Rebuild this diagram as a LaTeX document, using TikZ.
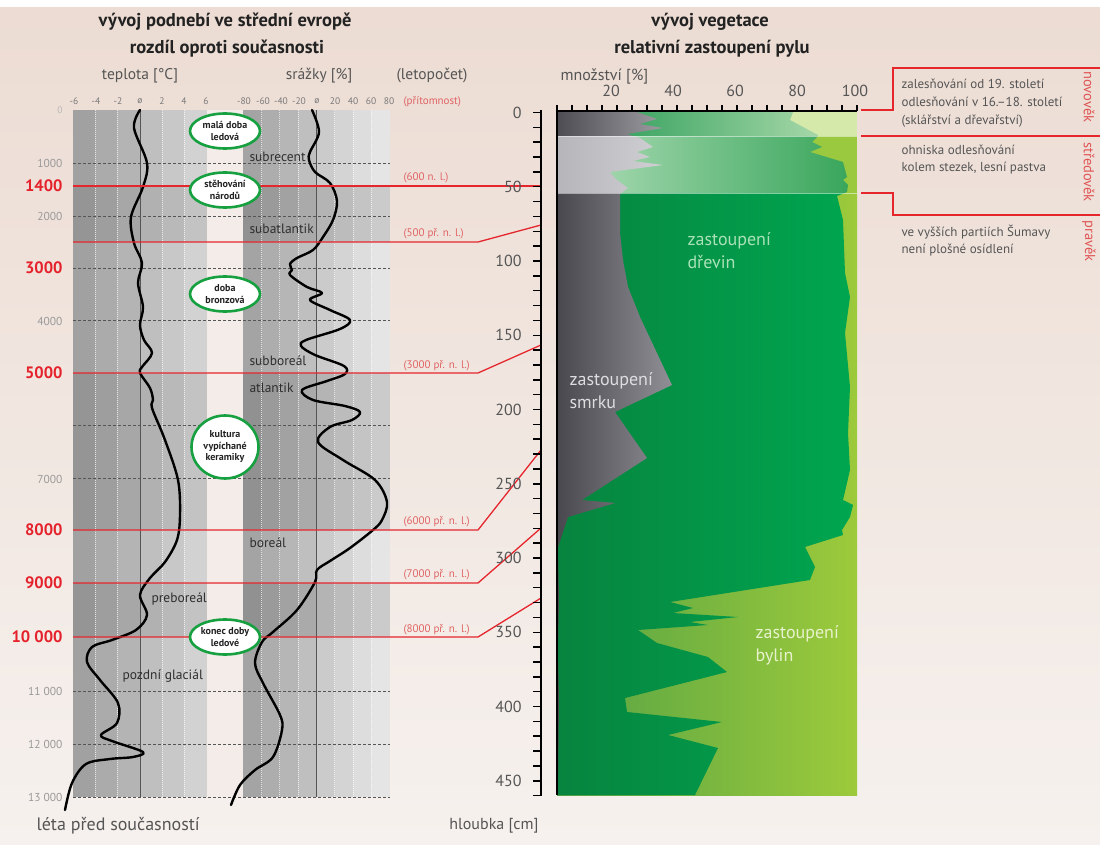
\documentclass[tikz,border=0pt]{standalone}
\usepackage{fontspec}
\setmainfont{PT Sans}
\usetikzlibrary{shapes.geometric}
\definecolor{bgtop}{HTML}{ECDCD3}
\definecolor{bgbot}{HTML}{F6F1EE}
\definecolor{tdark}{HTML}{222222}
\definecolor{tgray}{HTML}{555555}
\definecolor{axgray}{HTML}{7A7A7A}
\definecolor{yrgray}{HTML}{9A9A9A}
\definecolor{yrred}{HTML}{E5222B}
\definecolor{epgray}{HTML}{2E2E2E}
\definecolor{rlabc}{HTML}{E06464}
\definecolor{erared}{HTML}{E05555}
\definecolor{redline}{HTML}{E5262D}
\definecolor{bubgreen}{HTML}{16A040}
\definecolor{hgray}{HTML}{555555}
\definecolor{zgray}{HTML}{555555}
\definecolor{gapc}{HTML}{F3ECE8}
% vegetation colours
\definecolor{hbA}{RGB}{85,163,69}
\definecolor{hbB}{RGB}{157,202,59}
\definecolor{trA}{RGB}{7,132,63}
\definecolor{trB}{RGB}{0,166,80}
\definecolor{spA}{RGB}{72,72,78}
\definecolor{spB}{RGB}{143,143,149}
\definecolor{hb2}{RGB}{154,201,64}
\definecolor{tr2A}{RGB}{180,223,187}
\definecolor{tr2B}{RGB}{55,165,90}
\definecolor{sp2A}{RGB}{181,181,186}
\definecolor{sp2B}{RGB}{210,210,214}
\definecolor{hb1}{RGB}{213,233,170}
\definecolor{tr1A}{RGB}{23,147,74}
\definecolor{tr1B}{RGB}{184,224,180}
\definecolor{sp1A}{RGB}{77,77,83}
\definecolor{sp1B}{RGB}{163,163,168}
\definecolor{vlc1}{RGB}{170,226,184}
\definecolor{vlc2}{RGB}{222,222,224}
\definecolor{vlc3}{RGB}{232,242,204}
\begin{document}
\begin{tikzpicture}[x=1pt,y=-1pt,
  ttl/.style={font=\bfseries\fontsize{18.5}{22}\selectfont, text=tdark},
  subt/.style={font=\fontsize{15.5}{18}\selectfont, text=tgray},
  axl/.style={font=\fontsize{9.5}{10}\selectfont, text=axgray},
  yrg/.style={font=\fontsize{11.5}{12}\selectfont, text=yrgray, anchor=east},
  yrr/.style={font=\bfseries\fontsize{16.5}{18}\selectfont, text=yrred, anchor=east},
  epo/.style={font=\fontsize{13.5}{15}\selectfont, text=epgray, anchor=west},
  rlab/.style={font=\fontsize{11}{12}\selectfont, text=rlabc, anchor=west},
  bub/.style={ellipse, draw=bubgreen, line width=2.6pt, fill=white, inner xsep=-5pt, inner ysep=-3pt, align=center,
    font=\bfseries\fontsize{10}{11.5}\selectfont, text=tdark, minimum width=70pt, minimum height=35pt},
  dep/.style={font=\fontsize{16}{18}\selectfont, text=tgray, anchor=east},
  ann/.style={font=\fontsize{13}{15}\selectfont, text=tgray, anchor=west},
  era/.style={font=\fontsize{14.5}{16}\selectfont, text=erared, rotate=-90},
  vlab/.style={font=\fontsize{18}{23}\selectfont, anchor=west, align=left},
  redln/.style={draw=redline, line width=1.3pt},
  curve/.style={line width=2.4pt, black, line cap=round, line join=round},
  gridh/.style={draw=hgray, dash pattern=on 3pt off 2pt, line width=0.8pt},
  gridv/.style={draw=white, opacity=0.7, dash pattern=on 1pt off 1pt, line width=0.6pt},
  zero/.style={draw=zgray, line width=1pt},
  axisk/.style={draw=black, line width=1.5pt}
]
\useasboundingbox (0,0) rectangle (1100,845);
\fill[white] (0,0) rectangle (1100,845);
\shade[top color=bgtop,bottom color=bgbot] (0,8) rectangle (1100,845);

% ---------- left panels ----------
\foreach \a/\b/\c in {73/95/A1A1A1,95/117/ABABAB,117/140/B4B4B4,140/162/BFBFBF,162/184/C8C8C8,184/207/D2D2D2,
  243/261.5/A4A4A4,261.5/279.5/ADADAD,279.5/298/B6B6B6,298/316/BFBFBF,316/334.5/CBCBCB,334.5/353/D4D4D4,353/371/DDDDDD,371/390/E5E5E5}
  {\definecolor{cc}{HTML}{\c}\fill[cc] (\a,110) rectangle (\b,797);}
\fill[gapc] (207,110) rectangle (243,797);
\foreach \a/\b in {186/242,373/530,583/637}
  {\fill[black,opacity=0.07] (73,\a) rectangle (207,\b);
   \fill[black,opacity=0.11] (243,\a) rectangle (390,\b);}
\foreach \x in {95,117,162,184,261.5,279.5,298,334.5,353,371}
  \draw[gridv] (\x,110) -- (\x,797);
\draw[zero] (140,110) -- (140,797);
\draw[zero] (316,110) -- (316,797);
\foreach \y in {163,216,268,320,425,478,691,744,797}
  \draw[gridh] (73,\y) -- (390,\y);

% curves
\draw[curve] plot[smooth,tension=0.55] coordinates {(140,110) (134,128) (147,163) (143,187) (131,217) (134,243) (142,263) (138,283) (143,307) (140,325) (144,340) (152,353) (142,367) (140,373) (150,388) (153,400) (152,408) (165,440) (178,480) (180,515) (177,540) (165,562) (150,578) (140,595) (147,615) (136,630) (112,640) (92,647) (87,662) (100,680) (118,703) (117,723) (101,735) (112,741) (143,752) (133,757) (110,759) (86,764) (72,783) (65,810)};
\draw[curve] plot[smooth,tension=0.55] coordinates {(312,110) (319,132) (310,152) (309,160) (315,172) (330,183) (337,201) (333,220) (323,237) (313,250) (297,258) (290,264) (292,270) (290,275) (307,287) (322,293) (310,300) (330,310) (350,320) (340,329) (306,340) (301,346) (315,355) (344,366) (345,374) (327,381) (302,390) (313,400) (345,406) (360,412) (352,420) (330,427) (318,442) (343,460) (375,480) (387,502) (382,520) (373,530) (350,548) (330,561) (317,570) (315,582) (297,610) (273,632) (262,642) (255,663) (263,683) (280,715) (282,730) (273,757) (255,770) (240,785) (231,805)};

% red lines
\coordinate (a1) at (73,186); \coordinate (b1) at (541,186);
\coordinate (a2) at (73,242); \coordinate (m2) at (478,242); \coordinate (b2) at (541,225);
\coordinate (a3) at (73,373); \coordinate (m3) at (478,373); \coordinate (b3) at (541,345);
\coordinate (a4) at (73,530); \coordinate (m4) at (478,530); \coordinate (b4) at (541,450);
\coordinate (a5) at (73,583); \coordinate (m5) at (478,583); \coordinate (b5) at (541,528);
\coordinate (a6) at (73,637); \coordinate (m6) at (478,637); \coordinate (b6) at (541,598);
\draw[redln] (a1) -- (b1);
\draw[redln] (a2) -- (m2) -- (b2);
\draw[redln] (a3) -- (m3) -- (b3);
\draw[redln] (a4) -- (m4) -- (b4);
\draw[redln] (a5) -- (m5) -- (b5);
\draw[redln] (a6) -- (m6) -- (b6);

% bubbles
\node[bub] (b-mala) at (225,131) {malá doba\\ledová};
\node[bub] (b-steh) at (225,190) {stěhování\\národů};
\node[bub] (b-bron) at (225,294) {doba\\bronzová};
\node[bub, minimum width=67pt, minimum height=63pt, inner xsep=-2pt, inner ysep=-2pt] (b-kult) at (225,447) {kultura\\vypíchané\\keramiky};
\node[bub] (b-konec) at (225,637) {konec doby\\ledové};

% epochs
\node[epo] (e1) at (246,157) {subrecent};
\node[epo] (e2) at (246,229) {subatlantik};
\node[epo] (e3) at (246,361) {subboreál};
\node[epo] (e4) at (246,388) {atlantik};
\node[epo] (e5) at (246,543) {boreál};
\node[epo] (e6) at (148,599) {preboreál};
\node[epo] (e7) at (119,676) {pozdní glaciál};

% red labels
\node[rlab] (r0) at (400,102) {(přítomnost)};
\node[rlab] (r1) at (400,178) {(600 n. l.)};
\node[rlab] (r2) at (400,234) {(500 př. n. l.)};
\node[rlab] (r3) at (400,366) {(3000 př. n. l.)};
\node[rlab] (r4) at (400,522) {(6000 př. n. l.)};
\node[rlab] (r5) at (400,575) {(7000 př. n. l.)};
\node[rlab] (r6) at (400,630) {(8000 př. n. l.)};

% year labels
\node[yrg, font=\fontsize{9.5}{10}\selectfont, text=yrgray!70] (y0) at (66,110) {0};
\foreach \y/\t [count=\i] in {163/1000,216/2000,321/4000,479/7000,691/11 000,744/12 000,797/13 000}
  \node[yrg] (yg\i) at (66,\y) {\t};
\foreach \y/\t [count=\i] in {186/1400,268/3000,373/5000,530/8000,583/9000,637/10 000}
  \node[yrr] (yr\i) at (66,\y) {\t};

% axis labels
\foreach \x/\t [count=\i] in {74/-6,96/-4,118/-2,140/ø,162/2,184/4,206/6,
  244/-80,263/-60,281/-40,299/-20,317/ø,335/20,353/40,371/60,389/80}
  \node[axl] (ax\i) at (\x,101) {\t};

% titles
\node[ttl] (t1) at (225,22) {vývoj podnebí ve střední evropě};
\node[ttl] (t2) at (227,49) {rozdíl oproti současnosti};
\node[subt] (s1) at (140,76) {teplota [°C]};
\node[subt] (s2) at (319,76) {srážky [\%]};
\node[subt] (s3) at (432,76) {(letopočet)};
\node[ttl] (t3) at (710,22) {vývoj vegetace};
\node[ttl] (t4) at (712,49) {relativní zastoupení pylu};
\node[subt, anchor=west, font=\fontsize{16}{18}\selectfont] (s4) at (557,76) {množství [\%]};
\foreach \x/\t [count=\i] in {611/20,673/40,735/60,797/80,855/100}
  \node[subt, font=\fontsize{16}{18}\selectfont] (vs\i) at (\x,91) {\t};
\node[subt, anchor=west, font=\fontsize{18}{20}\selectfont] (lb1) at (33,826) {léta před současností};
\node[subt, anchor=east, font=\fontsize{16}{18}\selectfont] (lb2) at (542,826) {hloubka [cm]};

% ---------- vegetation chart ----------
\def\treesp{(557,112) -- (793,112) -- (790,120) -- (818,135) -- (817,137) -- (812,142) -- (822,147) -- (810,152) -- (843,162) -- (847,177) -- (843,180) -- (848,185) -- (847,192) -- (837,196) -- (843,220) -- (845,273) -- (850,297) -- (845,333) -- (850,387) -- (848,433) -- (850,470) -- (843,500) -- (853,505) -- (850,517) -- (842,530) -- (843,535) -- (805,547) -- (815,567) -- (810,580) -- (670,602) -- (693,608) -- (673,613) -- (738,617) -- (690,622) -- (708,625) -- (638,630) -- (657,643) -- (708,657) -- (727,672) -- (625,698) -- (627,712) -- (722,722) -- (668,735) -- (718,748) -- (695,795) -- (557,795) -- cycle}
\def\sprucep{(557,112) -- (637,112) -- (657,119) -- (640,124) -- (663,128) -- (627,134) -- (640,138) -- (653,147) -- (637,152) -- (650,157) -- (633,161) -- (663,165) -- (610,172) -- (617,180) -- (628,188) -- (620,194) -- (620,233) -- (623,260) -- (628,287) -- (640,317) -- (672,385) -- (615,412) -- (647,458) -- (582,500) -- (615,503) -- (568,517) -- (558,547) -- (559,600) -- (558,650) -- (559,700) -- (558,795) -- (557,795) -- cycle}
\begin{scope}
  \clip (557,193) rectangle (857,795);
  \shade[left color=hbA, right color=hbB] (557,112) rectangle (857,795);
  \shade[left color=trA, right color=trB] \treesp;
  \shade[left color=spA, right color=spB] \sprucep;
\end{scope}
\begin{scope}
  \clip (557,136) rectangle (857,193);
  \fill[hb2] (557,112) rectangle (857,795);
  \shade[left color=tr2A, right color=tr2B] \treesp;
  \shade[left color=sp2A, right color=sp2B] \sprucep;
\end{scope}
\begin{scope}
  \clip (557,112) rectangle (857,136);
  \fill[hb1] (557,112) rectangle (857,795);
  \shade[left color=tr1A, right color=tr1B] \treesp;
  \shade[left color=sp1A, right color=sp1B] \sprucep;
\end{scope}
\draw[white, opacity=0.5, line width=0.8pt] (557,136) -- (857,136);
\draw[white, opacity=0.5, line width=0.8pt] (557,193) -- (857,193);

\node[vlab, text=vlc1] (vl1) at (684,251) {zastoupení\\dřevin};
\node[vlab, text=vlc2] (vl2) at (566,391) {zastoupení\\smrku};
\node[vlab, text=vlc3] (vl3) at (752,645) {zastoupení\\bylin};

% chart axes
\draw[black, line width=1.8pt] (557,111) -- (557,795);
\draw[black, line width=1.3pt] (557,111) -- (857,111);
\foreach \k in {0,...,20} \draw[black, line width=1.2pt] ({557+15*\k},111.5) -- ++(0,-6);
\draw[axisk] (541,110) -- (541,795);
\foreach \k in {0,...,46} \draw[axisk] (541.7,{112.5+14.85*\k}) -- ++(-9,0);
\foreach \y/\t [count=\i] in {112.5/0,186.75/50,261/100,335.25/150,409.5/200,483.75/250,558/300,632.25/350,706.5/400,780.75/450}
  \node[dep] (d\i) at (525,\y) {\t};

% right annotations
\coordinate (p1) at (861,110); \coordinate (q1) at (893,110); \coordinate (u1) at (893,68); \coordinate (v1) at (1100,68);
\coordinate (p2) at (861,136); \coordinate (v2) at (1100,136);
\coordinate (p3) at (861,193); \coordinate (q3) at (893,193); \coordinate (u3) at (893,215); \coordinate (v3) at (1100,215);
\draw[redln] (p1) -- (q1) -- (u1) -- (v1);
\draw[redln] (p2) -- (v2);
\draw[redln] (p3) -- (q3) -- (u3) -- (v3);
\node[ann] (n1) at (898,84) {zalesňování od 19. století};
\node[ann] (n2) at (898,102) {odlesňování v 16.–18. století};
\node[ann] (n3) at (898,121) {(sklářství a dřevařství)};
\node[ann] (n4) at (898,150) {ohniska odlesňování};
\node[ann] (n5) at (898,168) {kolem stezek, lesní pastva};
\node[ann] (n6) at (898,232) {ve vyšších partiích Šumavy};
\node[ann] (n7) at (898,250) {není plošné osídlení};
\node[era] (g1) at (1089,97) {novověk};
\node[era] (g2) at (1089,172) {středověk};
\node[era] (g3) at (1089,241) {pravěk};
\end{tikzpicture}
\end{document}
